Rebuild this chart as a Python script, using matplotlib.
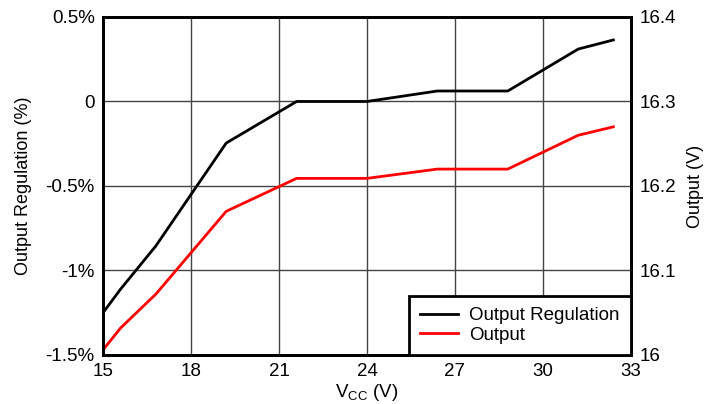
import matplotlib.pyplot as plt

plt.rcParams['font.family'] = ['Liberation Sans', 'DejaVu Sans']

# data
vcc = [15, 15.6, 16.8, 19.2, 21.6, 24, 26.4, 28.8, 31.2, 32.4]
regulation = [-1.25, -1.11, -0.855, -0.246, 0.0, 0.0, 0.062, 0.062, 0.31, 0.364]
output_v = [16.006, 16.032, 16.072, 16.170, 16.209, 16.209, 16.220, 16.220, 16.260, 16.270]

x_ticks = [15, 18, 21, 24, 27, 30, 33]
left_ticks = [-1.5, -1.0, -0.5, 0, 0.5]
left_labels = ['-1.5%', '-1%', '-0.5%', '0', '0.5%']
right_ticks = [16, 16.1, 16.2, 16.3, 16.4]
right_labels = ['16', '16.1', '16.2', '16.3', '16.4']

fig = plt.figure(figsize=(7.12, 4.04), dpi=100)
ax = fig.add_axes([0.1447, 0.1213, 0.7415, 0.8367])
ax2 = ax.twinx()

ax.grid(True, color='#444444', linewidth=1)
ax.set_axisbelow(True)

l1, = ax.plot(vcc, regulation, color='black', linewidth=2, label='Output Regulation')
l2, = ax2.plot(vcc, output_v, color='red', linewidth=2, label='Output')

ax.set_xlim(15, 33)
ax.set_ylim(-1.5, 0.5)
ax2.set_ylim(16, 16.4)
ax.set_xticks(x_ticks)
ax.set_yticks(left_ticks)
ax.set_yticklabels(left_labels)
ax2.set_yticks(right_ticks)
ax2.set_yticklabels(right_labels)

for a in (ax, ax2):
    a.tick_params(length=0, labelsize=13.5, pad=6)
    for s in a.spines.values():
        s.set_linewidth(2)
        s.set_color('black')

ax.set_xlabel(r'V$_{\mathregular{CC}}$ (V)', fontsize=13.5, labelpad=1)
ax.set_ylabel('Output Regulation (%)', fontsize=13, labelpad=10)
ax2.set_ylabel('Output (V)', fontsize=13, labelpad=8)

leg = ax2.legend(handles=[l1, l2], loc='lower right', borderaxespad=0,
                 fancybox=False, edgecolor='black', framealpha=1,
                 fontsize=13.5, handlelength=2.0, labelspacing=0.12,
                 borderpad=0.6, handletextpad=0.6)
leg.get_frame().set_linewidth(2)

fig.savefig('out.png', dpi=100)
